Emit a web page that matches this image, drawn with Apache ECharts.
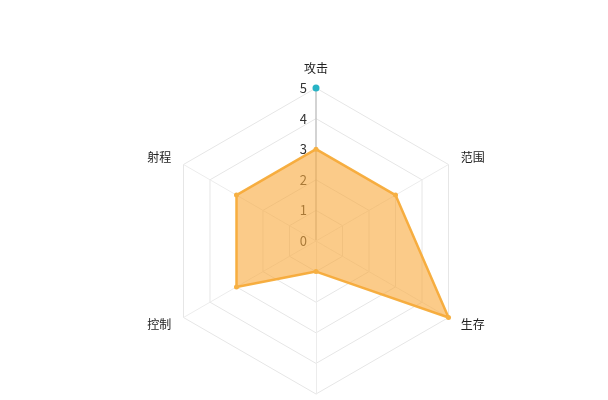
<!DOCTYPE html>
<html>
<head>
<meta charset="utf-8">
<script src="https://cdn.jsdelivr.net/npm/echarts@6/dist/echarts.min.js"></script>
<style>
html,body{margin:0;padding:0;background:#fff;}
#main{width:608px;height:400px;}
</style>
</head>
<body>
<div id="main"></div>
<script>
// indicators listed counter-clockwise starting from the top (ECharts radar order)
var indicatorNames = ['攻击', '射程', '控制', '爆发', '生存', '范围'];
var indicatorMax = 5;
var heroValues = [3, 3, 3, 1, 5, 3];

var font = '"Noto Sans CJK SC", "Noto Sans", sans-serif';

var mainIndicators = indicatorNames.map(function (n, i) {
  var o = { name: n, max: indicatorMax, min: 0 };
  if (i === 0) {
    o.axisLabel = { show: true, color: '#333', fontSize: 13, margin: 9, fontFamily: font };
    o.axisLine = { show: true, lineStyle: { color: '#c4c4c4', width: 1.5 } };
  }
  return o;
});
var dotIndicators = indicatorNames.map(function (n, i) {
  var o = { name: n, max: indicatorMax, min: 0 };
  if (i === 0) {
    o.axisLine = { show: true, symbol: ['none', 'circle'], symbolSize: [7, 7], lineStyle: { color: '#27b3c5', width: 0 } };
  }
  return o;
});

var chart = echarts.init(document.getElementById('main'), null, { renderer: 'canvas' });
chart.setOption({
  animation: false,
  radar: [{
    center: [316, 241],
    radius: 153,
    startAngle: 90,
    splitNumber: 5,
    shape: 'polygon',
    nameGap: 14,
    axisName: { color: '#222', fontSize: 12, fontFamily: font },
    axisLabel: { show: false },
    axisTick: { show: false },
    axisLine: { show: true, lineStyle: { color: '#ececec', width: 1 } },
    splitLine: { lineStyle: { color: '#e6e6e6', width: 1 } },
    splitArea: { show: false },
    indicator: mainIndicators
  }, {
    center: [316, 241],
    radius: 153,
    startAngle: 90,
    splitNumber: 5,
    shape: 'polygon',
    axisName: { show: false },
    axisLabel: { show: false },
    axisTick: { show: false },
    axisLine: { show: false },
    splitLine: { show: false },
    splitArea: { show: false },
    indicator: dotIndicators
  }],
  series: [{
    type: 'radar',
    radarIndex: 0,
    symbol: 'circle',
    symbolSize: 5,
    itemStyle: { color: '#f6b043' },
    lineStyle: { color: '#f6b043', width: 2.5 },
    areaStyle: { color: '#f9a83a', opacity: 0.6 },
    data: [{ value: heroValues, name: '英雄' }]
  }]
});
</script>
</body>
</html>
